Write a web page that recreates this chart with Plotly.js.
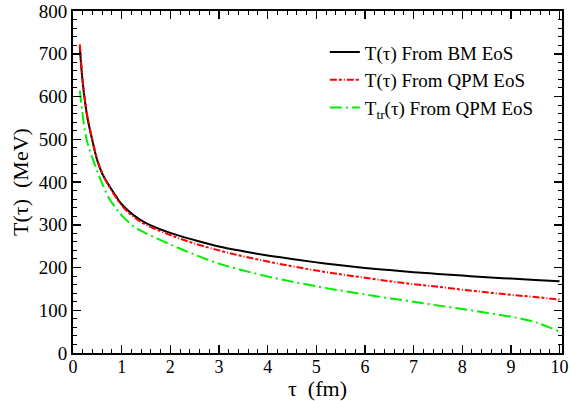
<!DOCTYPE html>
<html>
<head>
<meta charset="utf-8">
<script src="https://cdn.plot.ly/plotly-3.0.1.min.js"></script>
<style>
  html, body { margin: 0; padding: 0; background: #fff; }
  #chart { width: 571px; height: 401px; }
</style>
</head>
<body>
<div id="chart"></div>
<script>
// proper time tau (fm)
const tau = [0.14, 0.17, 0.2, 0.25, 0.3, 0.4, 0.5, 0.6, 0.75, 0.9, 1.0, 1.25, 1.5, 2, 2.5, 3, 3.5, 4, 4.5, 5, 5.5, 6, 6.5, 7, 7.5, 8, 8.5, 9, 9.5, 10];
// T(tau) from BM EoS (MeV)
const tBM = [716, 670, 632, 585, 548, 496, 450, 420, 390, 364, 348, 322, 304, 281, 264, 249, 238, 228, 220, 212, 205, 199, 194, 189, 185, 181, 177, 174, 171, 168];
// T(tau) from QPM EoS (MeV)
const tQPM = [722, 675, 636, 588, 550, 498, 452, 421, 388, 361, 345, 318, 300, 276, 256, 240, 226, 214, 203, 193, 184, 176, 168, 161, 155, 148, 142, 136, 131, 125];
// T_tr(tau) from QPM EoS (MeV)
const tTr = [614, 585, 556, 516, 490, 456, 425, 396, 360, 336, 322, 296, 280, 254, 230, 209, 193, 179, 167, 156, 146, 137, 128, 120, 111, 103, 94, 85, 72, 50];

const names = ["T(τ) From BM EoS", "T(τ) From QPM EoS", "T<sub>tr</sub>(τ) From QPM EoS"];

const serif = "Liberation Serif, Times New Roman, Times, serif";

const traces = [
  { x: tau, y: tBM, name: names[0], mode: "lines", line: { color: "#000000", width: 2, shape: "spline" } },
  { x: tau, y: tQPM, name: names[1], mode: "lines", line: { color: "#ff0000", width: 2, dash: "7px,2px,3px,2px,1px,2px", shape: "spline" } },
  { x: tau, y: tTr, name: names[2], mode: "lines", line: { color: "#00ee00", width: 2, dash: "12px,4px,2px,4px", shape: "spline" } }
];

const layout = {
  width: 571, height: 401,
  font: { family: serif, size: 18, color: "#000" },
  margin: { l: 73, r: 9, t: 11, b: 48 },
  paper_bgcolor: "#fff", plot_bgcolor: "#fff",
  showlegend: true,
  legend: {
    x: 0.515, y: 0.935, xanchor: "left", yanchor: "top",
    bgcolor: "rgba(0,0,0,0)", borderwidth: 0,
    font: { family: serif, size: 19, color: "#000" },
    tracegroupgap: 0
  },
  xaxis: {
    range: [0, 10.05], dtick: 1, tick0: 0,
    ticks: "inside", ticklen: 8, tickwidth: 1.5, tickcolor: "#000",
    minor: { dtick: 0.2, ticks: "inside", ticklen: 4, tickwidth: 1, tickcolor: "#000" },
    showline: true, linecolor: "#000", linewidth: 2, mirror: "ticks",
    showgrid: false, zeroline: false,
    ticklabelstandoff: -4,
    tickfont: { family: serif, size: 18, color: "#000" },
    title: { text: "τ  (fm)", font: { family: serif, size: 22, color: "#000" }, standoff: 2 }
  },
  yaxis: {
    range: [0, 800], dtick: 100, tick0: 0,
    ticks: "inside", ticklen: 8, tickwidth: 1.5, tickcolor: "#000",
    minor: { dtick: 20, ticks: "inside", ticklen: 4, tickwidth: 1, tickcolor: "#000" },
    showline: true, linecolor: "#000", linewidth: 2, mirror: "ticks",
    showgrid: false, zeroline: false,
    tickfont: { family: serif, size: 19, color: "#000" },
    title: { text: "T(τ)  (MeV)", font: { family: serif, size: 22, color: "#000" }, standoff: 4 }
  }
};

Plotly.newPlot("chart", traces, layout, { displayModeBar: false, staticPlot: true });
</script>
</body>
</html>
